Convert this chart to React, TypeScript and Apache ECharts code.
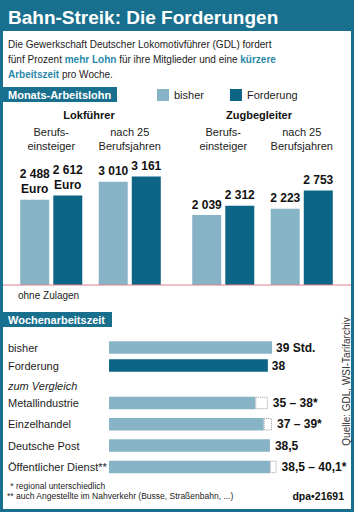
import React, { useEffect, useRef } from "react";
import * as echarts from "echarts";

// ---- Data ----
const lohnGruppen = ["Lokführer", "Zugbegleiter"];
const lohnStufen = ["Berufs-\neinsteiger", "nach 25\nBerufsjahren"];
const lokBisher = [2488, 3010];
const lokForderung = [2612, 3161];
const zugBisher = [2039, 2223];
const zugForderung = [2312, 2753];

const zeitKategorien = ["bisher", "Forderung"];
const zeitWerte = [39, 38];
const zeitLabels = ["39 Std.", "38"];

const vergleichKategorien = ["Metallindustrie", "Einzelhandel", "Deutsche Post", "Öffentlicher Dienst**"];
const vergleichVon = [35, 37, 38.5, 38.5];
const vergleichBis = [38, 39, 38.5, 40.1];
const vergleichLabels = ["35 – 38*", "37 – 39*", "38,5", "38,5 – 40,1*"];

// ---- Styles ----
const FONT = "Liberation Sans, Arial, Helvetica, sans-serif";
const TEAL = "#196f8e";
const DARK = "#0d6585";
const LIGHT = "#87b3c7";
const HIGHLIGHT = "#2a88ab";
const TEXT = "#1c1c1c";

const fmt = (n: number) => String(n).replace(/\B(?=(\d{3})+(?!\d))/g, " ");

function buildOption(): any {
  const valueLabel = (withEuro: boolean) => ({
    show: true,
    position: "top",
    distance: 3,
    fontSize: 12,
    fontWeight: "bold",
    color: "#111",
    lineHeight: 15,
    formatter: (p: any) => fmt(p.value) + (withEuro && p.dataIndex === 0 ? "\nEuro" : ""),
  });

  const vBar = (name: string, data: number[], color: string, idx: number, euro: boolean) => ({
    type: "bar",
    name,
    xAxisIndex: idx,
    yAxisIndex: idx,
    data,
    barWidth: 29,
    barGap: "14%",
    itemStyle: { color },
    label: valueLabel(euro),
  });

  const catTop = (idx: number) => ({
    type: "category",
    gridIndex: idx,
    data: lohnStufen,
    position: "top",
    axisLine: { show: false },
    axisTick: { show: false },
    axisLabel: { margin: 12, fontSize: 11, lineHeight: 14, color: TEXT, interval: 0 },
  });

  const hiddenVal = (idx: number) => ({
    type: "value",
    gridIndex: idx,
    min: 0,
    max: 3500,
    show: false,
    splitLine: { show: false },
  });

  const hX = (idx: number) => ({
    type: "value",
    gridIndex: idx,
    min: 0,
    max: 50,
    show: false,
    splitLine: { show: false },
  });

  const hY = (idx: number, data: string[]) => ({
    type: "category",
    gridIndex: idx,
    data,
    inverse: true,
    axisLine: { show: false },
    axisTick: { show: false },
    axisLabel: { align: "left", margin: 101, fontSize: 11, color: TEXT },
  });

  const valLabelStyle = { fontSize: 12, fontWeight: "bold", color: "#111" };

  return {
    animation: false,
    textStyle: { fontFamily: FONT },
    legend: {
      data: ["bisher", "Forderung"],
      left: 157,
      top: 89,
      padding: 0,
      itemWidth: 12,
      itemHeight: 12,
      itemGap: 26,
      icon: "rect",
      selectedMode: false,
      textStyle: { fontSize: 11, color: TEXT },
    },
    grid: [
      { left: 12, width: 157, top: 165, height: 120 },
      { left: 184, width: 157, top: 165, height: 120 },
      { left: 109, width: 209, top: 338.5, height: 36 },
      { left: 109, width: 209, top: 392.3, height: 85.3 },
    ],
    xAxis: [catTop(0), catTop(1), hX(2), hX(3)],
    yAxis: [hiddenVal(0), hiddenVal(1), hY(2, zeitKategorien), hY(3, vergleichKategorien)],
    series: [
      vBar("bisher", lokBisher, LIGHT, 0, true),
      vBar("Forderung", lokForderung, DARK, 0, true),
      vBar("bisher", zugBisher, LIGHT, 1, false),
      vBar("Forderung", zugForderung, DARK, 1, false),
      {
        type: "bar",
        name: "Wochenarbeitszeit",
        xAxisIndex: 2,
        yAxisIndex: 2,
        barWidth: 12.5,
        data: zeitWerte.map((v, i) => ({ value: v, itemStyle: { color: i === 0 ? LIGHT : DARK } })),
        label: {
          show: true,
          position: "right",
          distance: 4,
          ...valLabelStyle,
          formatter: (p: any) => zeitLabels[p.dataIndex],
        },
      },
      {
        type: "bar",
        name: "Vergleich",
        xAxisIndex: 3,
        yAxisIndex: 3,
        stack: "v",
        barWidth: 12.5,
        itemStyle: { color: LIGHT },
        data: vergleichVon.map((v, i) => ({
          value: v,
          label: { show: vergleichBis[i] === v },
        })),
        label: {
          position: "right",
          distance: 5,
          ...valLabelStyle,
          formatter: (p: any) => vergleichLabels[p.dataIndex],
        },
      },
      {
        type: "bar",
        name: "Spanne",
        xAxisIndex: 3,
        yAxisIndex: 3,
        stack: "v",
        barWidth: 12.5,
        itemStyle: { color: "#ffffff", borderColor: "#9a9a9a", borderWidth: 1, borderType: "dotted" },
        data: vergleichVon.map((v, i) => (vergleichBis[i] > v ? +(vergleichBis[i] - v).toFixed(2) : "-")),
        label: {
          show: true,
          position: "right",
          distance: 5,
          ...valLabelStyle,
          formatter: (p: any) => vergleichLabels[p.dataIndex],
        },
      },
    ],
    graphic: [
      // frame
      { type: "rect", shape: { x: 0, y: 0, width: 354, height: 31 }, style: { fill: TEAL }, silent: true },
      { type: "rect", shape: { x: 0, y: 0, width: 3, height: 512 }, style: { fill: TEAL }, silent: true },
      { type: "rect", shape: { x: 351, y: 0, width: 3, height: 512 }, style: { fill: TEAL }, silent: true },
      { type: "rect", shape: { x: 0, y: 509, width: 354, height: 3 }, style: { fill: TEAL }, silent: true },
      {
        type: "text",
        x: 8,
        y: 17,
        style: { text: "Bahn-Streik: Die Forderungen", fill: "#fff", font: `bold 19px ${FONT}`, verticalAlign: "middle" },
      },
      {
        type: "text",
        x: 8,
        y: 36.5,
        style: {
          text:
            "{n|Die Gewerkschaft Deutscher Lokomotivführer (GDL) fordert}\n" +
            "{n|fünf Prozent }{h|mehr Lohn}{n| für ihre Mitglieder und eine }{h|kürzere}\n" +
            "{h|Arbeitszeit}{n| pro Woche.}",
          verticalAlign: "top",
          fill: TEXT,
          rich: {
            n: { fontSize: 10, lineHeight: 15, fontFamily: FONT, fill: TEXT },
            h: { fontSize: 10, lineHeight: 15, fontFamily: FONT, fontWeight: "bold", fill: HIGHLIGHT },
          },
        },
      },
      // section headers
      { type: "rect", shape: { x: 0, y: 87, width: 117, height: 15 }, style: { fill: TEAL }, silent: true },
      {
        type: "text",
        x: 8,
        y: 94.5,
        style: { text: "Monats-Arbeitslohn", fill: "#fff", font: `bold 11px ${FONT}`, verticalAlign: "middle" },
      },
      { type: "rect", shape: { x: 0, y: 312, width: 112, height: 15 }, style: { fill: TEAL }, silent: true },
      {
        type: "text",
        x: 8,
        y: 319.5,
        style: { text: "Wochenarbeitszeit", fill: "#fff", font: `bold 11px ${FONT}`, verticalAlign: "middle" },
      },
      // group titles
      {
        type: "text",
        x: 89,
        y: 115,
        style: { text: lohnGruppen[0], fill: "#111", font: `bold 11px ${FONT}`, align: "center", verticalAlign: "middle" },
      },
      {
        type: "text",
        x: 259,
        y: 115,
        style: { text: lohnGruppen[1], fill: "#111", font: `bold 11px ${FONT}`, align: "center", verticalAlign: "middle" },
      },
      // baseline
      {
        type: "line",
        shape: { x1: 3, y1: 285, x2: 351, y2: 285 },
        style: { stroke: "#e27f8a", lineWidth: 1 },
        z: 10,
        silent: true,
      },
      {
        type: "text",
        x: 18,
        y: 295,
        style: { text: "ohne Zulagen", fill: TEXT, font: `10px ${FONT}`, verticalAlign: "middle" },
      },
      {
        type: "text",
        x: 8,
        y: 386,
        style: { text: "zum Vergleich", fill: TEXT, font: `italic 11px ${FONT}`, verticalAlign: "middle" },
      },
      {
        type: "text",
        x: 346,
        y: 381.5,
        rotation: Math.PI / 2,
        style: {
          text: "Quelle: GDL, WSI-Tarifarchiv",
          fill: "#333",
          font: `10px ${FONT}`,
          align: "center",
          verticalAlign: "middle",
        },
      },
      {
        type: "text",
        x: 8,
        y: 485.5,
        style: { text: " * regional unterschiedlich", fill: TEXT, font: `8.5px ${FONT}`, verticalAlign: "middle" },
      },
      {
        type: "text",
        x: 7,
        y: 495.5,
        style: {
          text: "** auch Angestellte im Nahverkehr (Busse, Straßenbahn, ...)",
          fill: TEXT,
          font: `8.5px ${FONT}`,
          verticalAlign: "middle",
        },
      },
      {
        type: "text",
        x: 344,
        y: 495.5,
        style: { text: "dpa•21691", fill: "#111", font: `bold 10.5px ${FONT}`, align: "right", verticalAlign: "middle" },
      },
    ],
  };
}

export default function App() {
  const ref = useRef<HTMLDivElement>(null);
  useEffect(() => {
    document.body.style.margin = "0";
    if (!ref.current) return;
    const chart = echarts.init(ref.current, null, { renderer: "svg" });
    chart.setOption(buildOption());
    return () => chart.dispose();
  }, []);
  return (
    <div
      ref={ref}
      style={{ position: "absolute", left: 0, top: 0, width: 354, height: 512, background: "#fff" }}
    />
  );
}
